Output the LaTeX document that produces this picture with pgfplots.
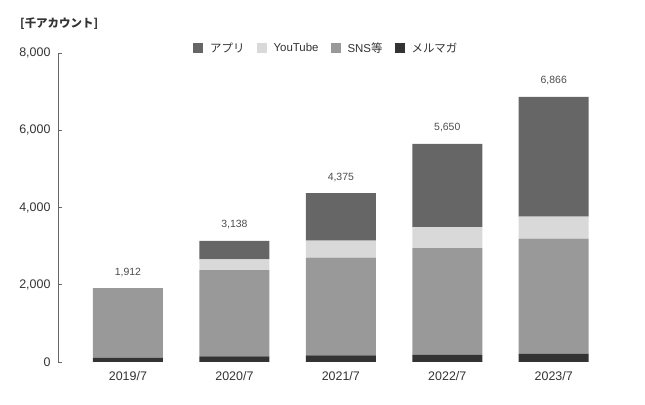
\documentclass[border=0pt]{standalone}
\usepackage{fontspec}
\setmainfont{Liberation Sans}
\newfontfamily\cjk{Noto Sans CJK JP}
\usepackage{pgfplots}
\pgfplotsset{compat=1.18}
\usepackage{pgfplotstable}
\definecolor{capp}{HTML}{666666}
\definecolor{cyt}{HTML}{D9D9D9}
\definecolor{csns}{HTML}{999999}
\definecolor{cmail}{HTML}{333333}
\definecolor{ctxt}{HTML}{333333}
\pgfplotstableread{
x mail sns yt apps total
0 115 1797 0 0 1912
1 145 2235 276 482 3138
2 173 2527 440 1235 4375
3 190 2759 543 2158 5650
4 217 2975 569 3105 6866
}\datatable
\pgfplotsset{common/.style={
  scale only axis,
  anchor=south west,
  at={(58bp,43bp)},
  width=566bp, height=309bp,
  xmin=-0.657, xmax=4.66,
  ymin=0, ymax=8000,
  clip=false,
}}
\begin{document}
\begin{tikzpicture}
\path[use as bounding box] (0,0) rectangle (645bp,405bp);
\node[anchor=west, text=ctxt, inner sep=0pt] at (20bp,381bp) {\cjk\bfseries\fontsize{11.5}{13}\selectfont [千アカウント]};
\begin{axis}[
  common,
  ybar stacked,
  bar width=70bp,
  axis lines=left,
  x axis line style={draw=none},
  y axis line style={-, draw=black!60, line width=0.8pt},
  ytick={0,2000,4000,6000,8000},
  ytick style={draw=black!60, line width=0.8pt},
  xtick style={draw=none},
  tick align=inside,
  major tick length=4bp,
  yticklabel style={font=\fontsize{12.5}{14}\selectfont, text=ctxt, xshift=-4bp},
  xtick={0,1,2,3,4},
  xticklabels={2019/7,2020/7,2021/7,2022/7,2023/7},
  xticklabel style={font=\fontsize{12.5}{14}\selectfont, text=ctxt, yshift=-6bp},
  /pgf/number format/1000 sep={,},
  /pgf/number format/assume math mode=true,
  legend columns=4,
  reverse legend,
  legend style={at={(0.2385,1.016)}, anchor=west, draw=none, fill=none,
    inner xsep=0pt, inner ysep=0pt,
    font=\fontsize{11.5}{13}\selectfont, text=ctxt,
    /tikz/every even column/.append style={column sep=10bp},
    /tikz/every odd column/.append style={column sep=5bp}},
  legend image code/.code={\fill[#1] (0bp,-5bp) rectangle (10bp,5bp);},
]
\addplot[fill=cmail, draw=none] table[x=x, y=mail] {\datatable};
\addlegendentry{\cjk メルマガ}
\addplot[fill=csns, draw=none] table[x=x, y=sns] {\datatable};
\addlegendentry{SNS{\cjk 等}}
\addplot[fill=cyt, draw=none] table[x=x, y=yt] {\datatable};
\addlegendentry{YouTube}
\addplot[fill=capp, draw=none] table[x=x, y=apps] {\datatable};
\addlegendentry{\cjk アプリ}
\end{axis}
\begin{axis}[
  common,
  hide axis,
  /pgf/number format/1000 sep={,},
  /pgf/number format/assume math mode=true,
]
\addplot[draw=none, mark=none, nodes near coords,
  nodes near coords style={anchor=south, yshift=8bp, font=\fontsize{10.5}{12}\selectfont, text=black!70}]
  table[x=x, y=total] {\datatable};
\end{axis}
\end{tikzpicture}
\end{document}
